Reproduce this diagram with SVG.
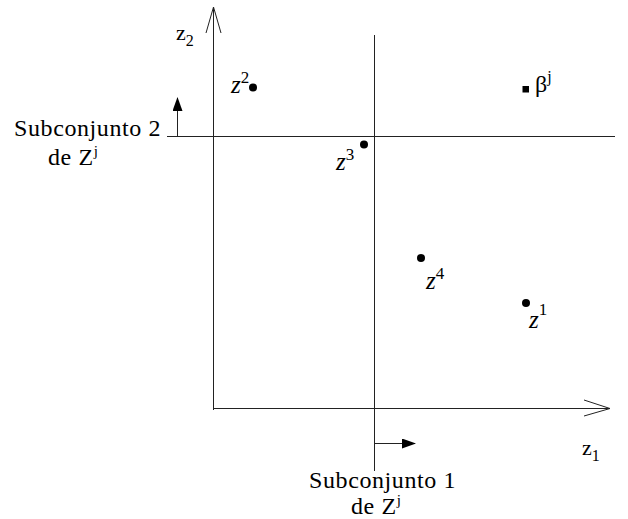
<svg xmlns="http://www.w3.org/2000/svg" width="628" height="519" viewBox="0 0 628 519">
<defs>
<style>
.ln{stroke:#222;stroke-width:1;fill:none}
.t{fill:#000}
.lbl{font-size:24px;letter-spacing:0.6px}
.it{font-style:italic;font-size:25px}
.sup{font-size:17px}
.dot{fill:#000}
</style>
<marker id="ah" viewBox="0 0 14 10" refX="13" refY="5" markerWidth="14" markerHeight="10" markerUnits="userSpaceOnUse" orient="auto">
<path d="M0,0 L14,5 L0,10 Z" fill="#000"/>
</marker>
</defs>
<rect width="628" height="519" fill="#fff"/>
<g id="connectors">
<path class="ln" d="M213.5,410 V7 M206,33 L213.5,7 L221,33"/>
<path class="ln" d="M213,408.5 H610 M584,400 L610,408.5 L584,416"/>
<path class="ln" d="M374.5,35 V471"/>
<path class="ln" d="M167,136.5 H615"/>
<path class="ln" d="M177.5,136 V98" marker-end="url(#ah)"/>
<path class="ln" d="M374,443.5 H415" marker-end="url(#ah)"/>
</g>
<g font-family="Liberation Serif, DejaVu Serif, serif">
<g id="axis-z2"><text class="t" x="176" y="40" font-size="22">z<tspan font-size="16" dy="6">2</tspan></text></g>
<g id="axis-z1"><text class="t" x="582" y="455" font-size="22">z<tspan font-size="16" dy="6">1</tspan></text></g>
<g id="point-z2"><text class="t it" x="231" y="93">z<tspan class="sup" font-style="normal" dy="-10">2</tspan></text><circle class="dot" cx="253" cy="87.5" r="4"/></g>
<g id="point-z3"><text class="t it" x="336" y="170">z<tspan class="sup" font-style="normal" dy="-10">3</tspan></text><circle class="dot" cx="364" cy="144.5" r="4"/></g>
<g id="point-z4"><text class="t it" x="426" y="289">z<tspan class="sup" font-style="normal" dy="-10">4</tspan></text><circle class="dot" cx="421" cy="258" r="4"/></g>
<g id="point-z1"><text class="t it" x="529" y="328">z<tspan class="sup" font-style="normal" dy="-13">1</tspan></text><circle class="dot" cx="526" cy="303" r="4"/></g>
<g id="beta"><rect x="522.5" y="86" width="6.5" height="6.5" fill="#000"/><text class="t" x="535" y="92" font-size="24">β<tspan font-size="16" dy="-10">j</tspan></text></g>
<g id="subset2"><text class="t lbl" x="14" y="136">Subconjunto 2</text><text class="t lbl" x="48" y="165">de Z<tspan font-size="15" dy="-9">j</tspan></text></g>
<g id="subset1"><text class="t lbl" x="309" y="488">Subconjunto 1</text><text class="t lbl" x="351" y="514">de Z<tspan font-size="15" dy="-9">j</tspan></text></g>
</g>
</svg>
